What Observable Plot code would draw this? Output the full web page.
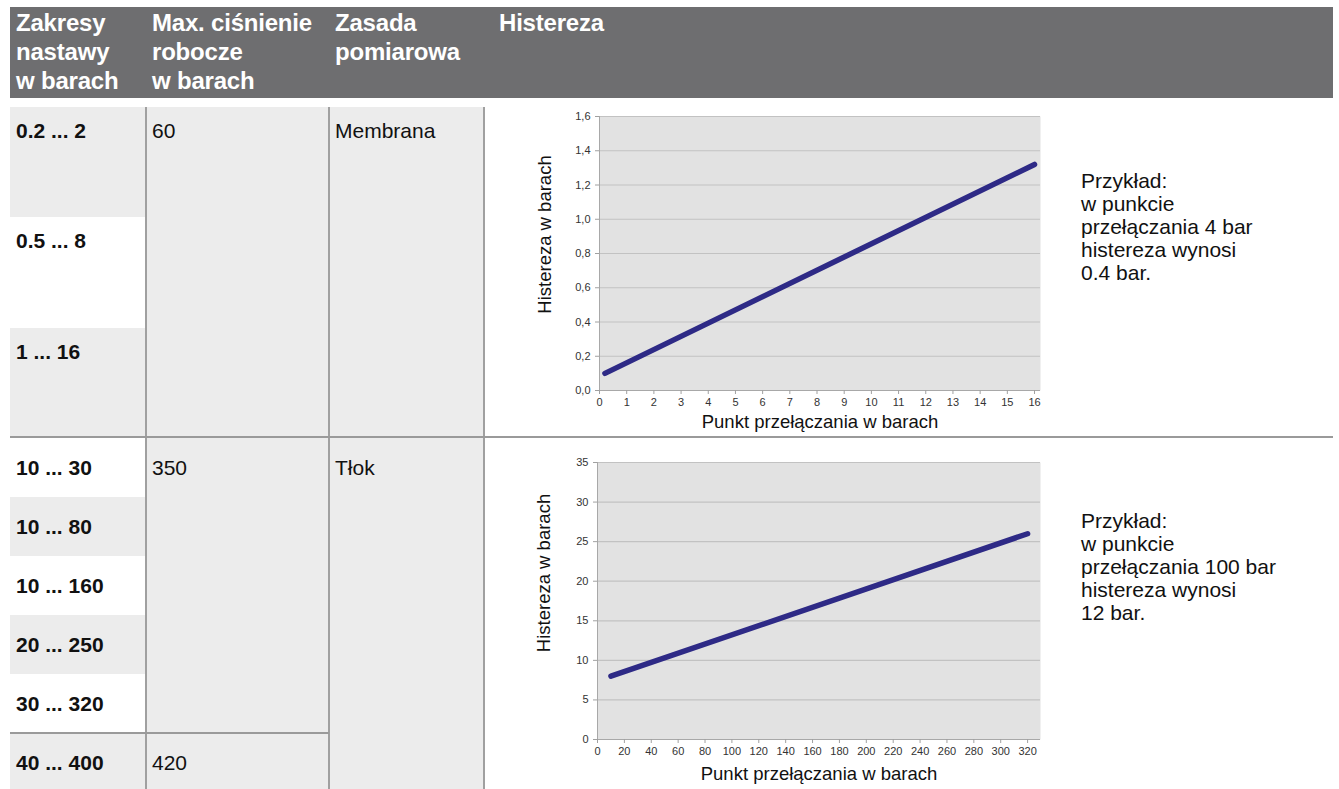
<!DOCTYPE html>
<html>
<head>
<meta charset="utf-8">
<script src="https://cdn.jsdelivr.net/npm/d3@7"></script>
<script src="https://cdn.jsdelivr.net/npm/@observablehq/plot@0.6"></script>
<style>
  html, body { margin: 0; padding: 0; background: #fff; }
  body { width: 1339px; height: 789px; overflow: hidden; position: relative;
         font-family: "Liberation Sans", Arial, Helvetica, sans-serif; color: #111; }
  .abs { position: absolute; }
  .hdr { position: absolute; left: 10px; top: 7px; width: 1323px; height: 91px; background: #6e6e70; }
  .htxt { position: absolute; top: 8px; color: #fff; font-weight: bold; font-size: 24px; line-height: 29px; white-space: pre; letter-spacing: -0.2px; }
  .cell { position: absolute; }
  .ctxt { position: absolute; font-size: 21px; white-space: pre; line-height: 24px; }
  .bold { font-weight: bold; }
  .vline { position: absolute; width: 2px; background: #a0a0a0; }
  .hline { position: absolute; height: 2px; background: #9a9a9a; }
  .note { position: absolute; font-size: 21px; line-height: 23px; white-space: pre; color: #111; }
</style>
</head>
<body>
<script>
// ---------- data ----------
const headers = ["Zakresy\nnastawy\nw barach", "Max. ciśnienie\nrobocze\nw barach", "Zasada\npomiarowa", "Histereza"];
const rangesMembrana = ["0.2 ... 2", "0.5 ... 8", "1 ... 16"];
const rangesTlok = ["10 ... 30", "10 ... 80", "10 ... 160", "20 ... 250", "30 ... 320", "40 ... 400"];
const maxPressure = ["60", "350", "420"];
const principles = ["Membrana", "Tłok"];
const notes = ["Przykład:\nw punkcie\nprzełączania 4 bar\nhistereza wynosi\n0.4 bar.",
               "Przykład:\nw punkcie\nprzełączania 100 bar\nhistereza wynosi\n12 bar."];

// chart 1 (Membrana)
const membranaSwitch = [0.2, 16];
const membranaHyst = [0.1, 1.32];
const membranaXTicks = [0,1,2,3,4,5,6,7,8,9,10,11,12,13,14,15,16];
const membranaYTicks = [0,0.2,0.4,0.6,0.8,1.0,1.2,1.4,1.6];

// chart 2 (Tłok)
const tlokSwitch = [10, 320];
const tlokHyst = [8, 26];
const tlokXTicks = [0,20,40,60,80,100,120,140,160,180,200,220,240,260,280,300,320];
const tlokYTicks = [0,5,10,15,20,25,30,35];

const xLabel = "Punkt przełączania w barach";
const yLabel = "Histereza w barach";

// ---------- table layout ----------
const body = document.body;
function el(cls, style, text) {
  const d = document.createElement("div");
  d.className = cls;
  Object.assign(d.style, style);
  if (text !== undefined) d.textContent = text;
  body.appendChild(d);
  return d;
}
const colX = [10, 146, 329, 484, 1333];
const textX = [16, 152, 335, 499];
el("hdr", {});
headers.forEach((h, i) => el("htxt", {left: textX[i] + "px"}, h));

// section 1
const s1Top = 107, s1Rows = [107, 217, 328, 437];
el("cell", {left: colX[1]+"px", top: s1Top+"px", width: (colX[3]-colX[1])+"px", height: (437-s1Top)+"px", background: "#ececec"});
rangesMembrana.forEach((r, i) => {
  el("cell", {left: colX[0]+"px", top: s1Rows[i]+"px", width: (colX[1]-colX[0])+"px", height: (s1Rows[i+1]-s1Rows[i])+"px",
              background: i % 2 === 0 ? "#ececec" : "#ffffff"});
  el("ctxt bold", {left: textX[0]+"px", top: (s1Rows[i] + 12)+"px"}, r);
});
el("ctxt", {left: textX[1]+"px", top: (s1Top + 12)+"px"}, maxPressure[0]);
el("ctxt", {left: textX[2]+"px", top: (s1Top + 12)+"px"}, principles[0]);

// section 2
const s2Top = 438, rowH = 59;
el("cell", {left: colX[1]+"px", top: s2Top+"px", width: (colX[3]-colX[1])+"px", height: (789-s2Top)+"px", background: "#ececec"});
rangesTlok.forEach((r, i) => {
  const t = s2Top + i * rowH;
  el("cell", {left: colX[0]+"px", top: t+"px", width: (colX[1]-colX[0])+"px", height: rowH+"px",
              background: i % 2 === 0 ? "#ffffff" : "#ececec"});
  el("ctxt bold", {left: textX[0]+"px", top: (t + 18)+"px"}, r);
});
el("ctxt", {left: textX[1]+"px", top: (s2Top + 18)+"px"}, maxPressure[1]);
el("ctxt", {left: textX[1]+"px", top: (s2Top + 5*rowH + 18)+"px"}, maxPressure[2]);
el("ctxt", {left: textX[2]+"px", top: (s2Top + 18)+"px"}, principles[1]);

// lines
[colX[1], colX[2], colX[3]].forEach(x => el("vline", {left: (x-1)+"px", top: "107px", height: "682px"}));
el("hline", {left: "10px", top: "436px", width: "1323px"});
el("hline", {left: "10px", top: (s2Top + 5*rowH - 1)+"px", width: (colX[2]-10)+"px"});

// notes
el("note", {left: "1081px", top: "169px"}, notes[0]);
el("note", {left: "1081px", top: "509px"}, notes[1]);

// ---------- charts ----------
function chart({xs, ys, xDomain, yDomain, xTicks, yTicks, yFmt, width, height, ml, mr, mt, mb, yLabelDx, yLabelDy, xLabelDy}) {
  const data = xs.map((x, i) => ({x, y: ys[i]}));
  return Plot.plot({
    width, height,
    marginLeft: ml, marginRight: mr, marginTop: mt, marginBottom: mb,
    style: {background: "transparent", fontFamily: "Liberation Sans, Arial, sans-serif", fontSize: "11px", color: "#333", overflow: "visible"},
    x: {domain: xDomain},
    y: {domain: yDomain},
    marks: [
      Plot.frame({fill: "#e2e2e2", stroke: null}),
      Plot.gridY(yTicks, {stroke: "#c2c2c2", strokeOpacity: 1, strokeWidth: 1.2}),
      Plot.ruleX([xDomain[0]], {stroke: "#a8a8a8"}),
      Plot.ruleY([yDomain[0]], {stroke: "#a8a8a8"}),
      Plot.axisX(xTicks, {tickSize: 4, tickPadding: 4, stroke: "#a0a0a0", label: null, tickFormat: d => String(d)}),
      Plot.axisY(yTicks, {tickSize: 4, tickPadding: 5, stroke: "#a0a0a0", label: null, tickFormat: yFmt}),
      Plot.line(data, {x: "x", y: "y", stroke: "#2e2a86", strokeWidth: 5.5, strokeLinecap: "round"}),
      Plot.text([xLabel], {frameAnchor: "bottom", lineAnchor: "middle", textAnchor: "middle", dy: xLabelDy, fontSize: 18.5, fill: "#111"}),
      Plot.text([yLabel], {frameAnchor: "left", rotate: -90, textAnchor: "middle", lineAnchor: "middle", dx: yLabelDx, dy: yLabelDy, fontSize: 18.5, fill: "#111"})
    ]
  });
}

const c1 = chart({
  xs: membranaSwitch, ys: membranaHyst,
  xDomain: [0, 16.22], yDomain: [0, 1.6],
  xTicks: membranaXTicks, yTicks: membranaYTicks,
  yFmt: d => d.toFixed(1).replace(".", ","),
  width: 570, height: 328, ml: 109, mr: 20, mt: 9, mb: 45,
  yLabelDx: -54, yLabelDy: -19, xLabelDy: 32
});
const w1 = el("abs", {left: "490px", top: "107px"});
w1.appendChild(c1);

const c2 = chart({
  xs: tlokSwitch, ys: tlokHyst,
  xDomain: [0, 329.6], yDomain: [0, 35],
  xTicks: tlokXTicks, yTicks: tlokYTicks,
  yFmt: d => String(d),
  width: 570, height: 352, ml: 107, mr: 20, mt: 24, mb: 51,
  yLabelDx: -53, yLabelDy: -28, xLabelDy: 35
});
const w2 = el("abs", {left: "490px", top: "438px"});
w2.appendChild(c2);
</script>
</body>
</html>
